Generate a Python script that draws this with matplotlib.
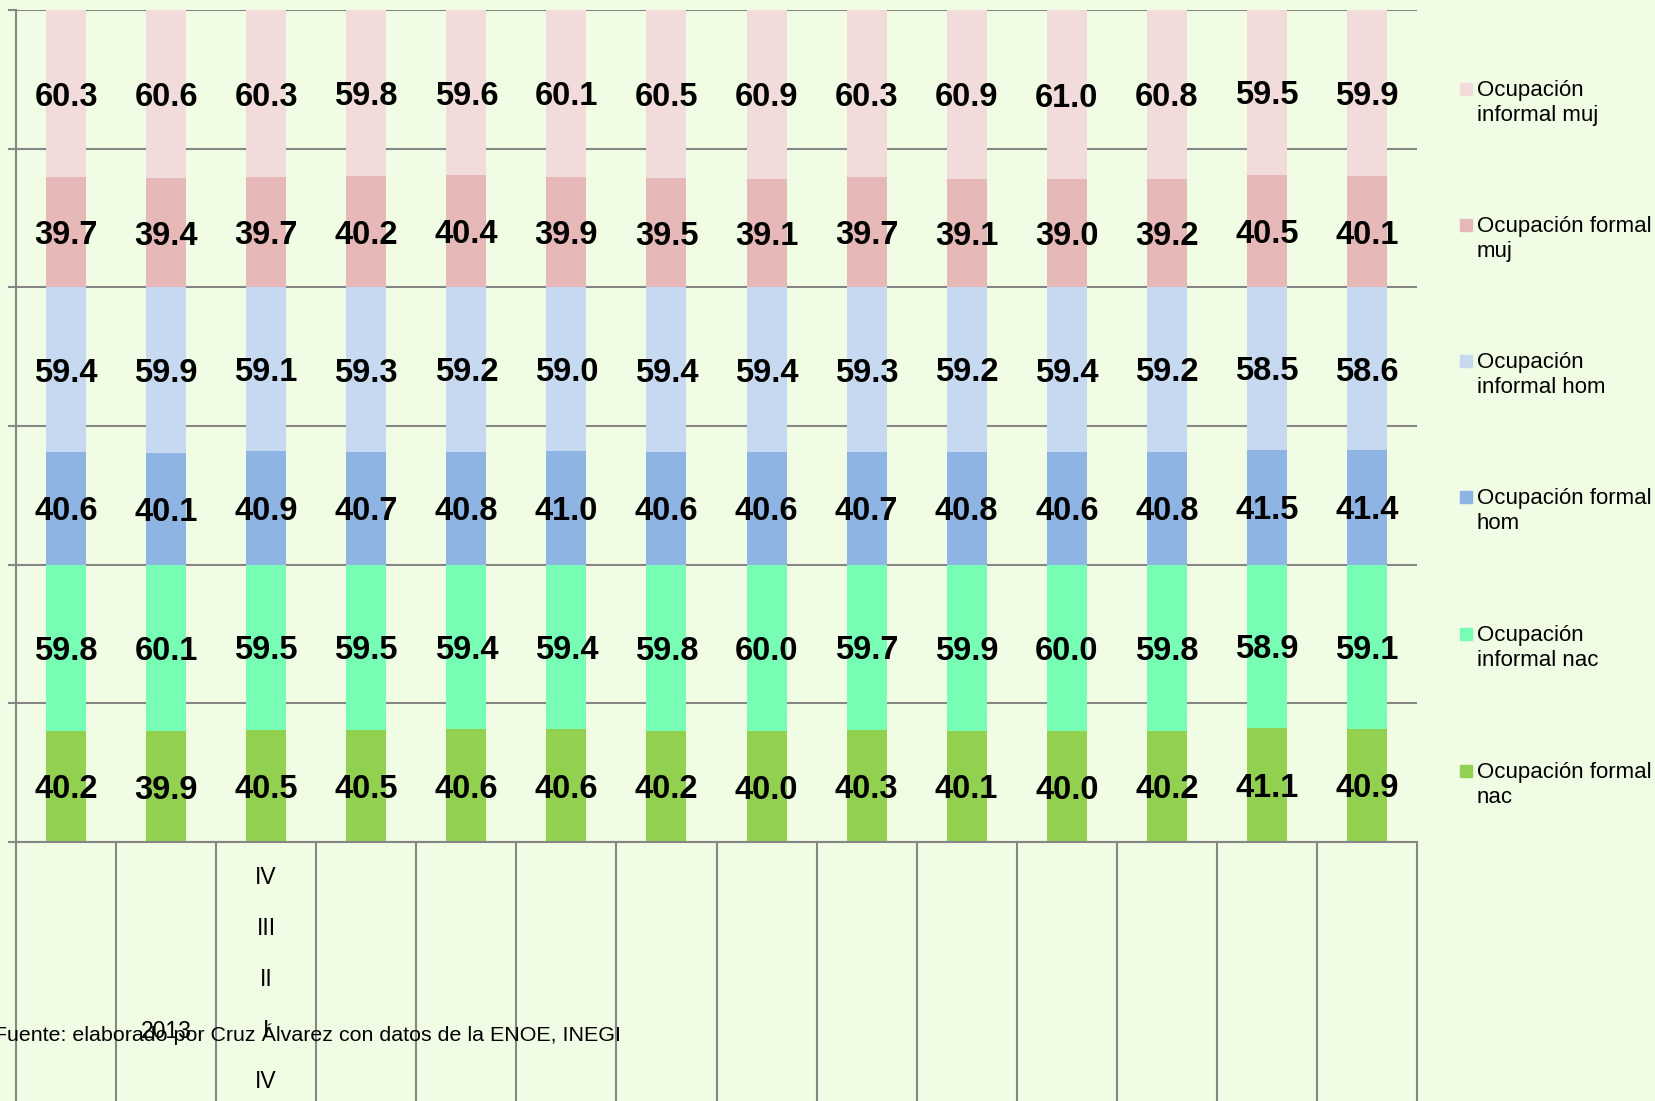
import numpy as np
from matplotlib import pyplot as plt
from matplotlib.patches import Rectangle

# series values per quarter, bottom to top of each stacked bar
formal_nac = [40.2, 39.9, 40.5, 40.5, 40.6, 40.6, 40.2, 40.0, 40.3, 40.1, 40.0, 40.2, 41.1, 40.9]
informal_nac = [59.8, 60.1, 59.5, 59.5, 59.4, 59.4, 59.8, 60.0, 59.7, 59.9, 60.0, 59.8, 58.9, 59.1]
formal_hom = [40.6, 40.1, 40.9, 40.7, 40.8, 41.0, 40.6, 40.6, 40.7, 40.8, 40.6, 40.8, 41.5, 41.4]
informal_hom = [59.4, 59.9, 59.1, 59.3, 59.2, 59.0, 59.4, 59.4, 59.3, 59.2, 59.4, 59.2, 58.5, 58.6]
formal_muj = [39.7, 39.4, 39.7, 40.2, 40.4, 39.9, 39.5, 39.1, 39.7, 39.1, 39.0, 39.2, 40.5, 40.1]
informal_muj = [60.3, 60.6, 60.3, 59.8, 59.6, 60.1, 60.5, 60.9, 60.3, 60.9, 61.0, 60.8, 59.5, 59.9]

series_names = ['Ocupación formal\nnac', 'Ocupación\ninformal nac', 'Ocupación formal\nhom',
                'Ocupación\ninformal hom', 'Ocupación formal\nmuj', 'Ocupación\ninformal muj']
quarter_labels = ['IV', 'III', 'II', 'I', 'IV']
year_label = '2013'
source_note = 'Fuente: elaborado por Cruz Álvarez con datos de la ENOE, INEGI'

colors = ['#92D050', '#77FDB4', '#8EB4E3', '#C6D9F1', '#E6B9B8', '#F2DCDB']
bg = '#F0FDE4'
grid_c = '#868686'

plt.rcParams['font.family'] = ['Liberation Sans', 'DejaVu Sans']

W, H = 1655, 1101
fig = plt.figure(figsize=(W / 100, H / 100), dpi=100, facecolor=bg)
ax = fig.add_axes([16 / W, 1 - 842 / H, (1417 - 16) / W, (842 - 10) / H])
ax.set_facecolor(bg)

data = [formal_nac, informal_nac, formal_hom, informal_hom, formal_muj, informal_muj]
x = np.arange(len(formal_nac))
bottom = np.zeros(len(x))
for vals, c in zip(data, colors):
    vals = np.array(vals)
    ax.bar(x, vals, 0.4, bottom=bottom, color=c, zorder=2)
    for xi, b, v in zip(x, bottom, vals):
        # nudge down a bit so the digits, not the text box, sit in the middle
        ax.annotate('%.1f' % v, (xi, b + v / 2), xytext=(0, -2.5), textcoords='offset points',
                    ha='center', va='center', fontsize=23.5, fontweight='bold', zorder=3)
    bottom = bottom + vals

ax.set_xlim(-0.5, len(x) - 0.5)
ax.set_ylim(0, 300)
ax.set_yticks(np.arange(0, 301, 50))
ax.set_yticklabels([])
ax.yaxis.grid(True, color=grid_c, lw=1.5, zorder=1)
ax.tick_params(axis='y', direction='out', length=6, width=1.5, color=grid_c)
ax.set_xticks(np.arange(-0.5, len(x), 1.0))
ax.set_xticklabels([])
ax.tick_params(axis='x', direction='out', length=190, width=1.5, color=grid_c)
for s in ['top', 'right']:
    ax.spines[s].set_visible(False)
for s in ['left', 'bottom']:
    ax.spines[s].set_color(grid_c)
    ax.spines[s].set_linewidth(1.5)

# category labels below the axis
for k, lab in enumerate(quarter_labels):
    y = 1 - (877 + k * 51.2) / H
    fig.text(266 / W, y, lab, ha='center', va='center', fontsize=16.5)
fig.text(166 / W, 1 - 1031 / H, year_label, ha='center', va='center', fontsize=16.5)
fig.text(-6 / W, 1 - 1034 / H, source_note, ha='left', va='center', fontsize=15.4)

# legend, top entry first
ys = [90, 226, 362, 498, 635, 772]
for name, c, yy in zip(series_names[::-1], colors[::-1], ys):
    fig.add_artist(Rectangle((1460 / W, 1 - (yy + 5) / H), 12 / W, 12 / H,
                             transform=fig.transFigure, color=c))
    fig.text(1477 / W, 1 - (yy - 10) / H, name, ha='left', va='top',
             fontsize=16, linespacing=1.22)

plt.savefig('out.png', dpi=100, facecolor=bg)
